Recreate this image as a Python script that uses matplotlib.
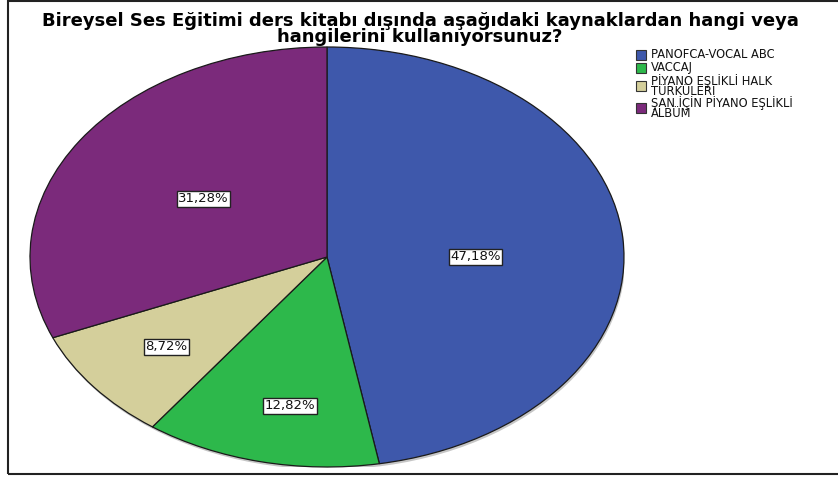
import numpy as np
import matplotlib.pyplot as plt
from matplotlib.patches import Rectangle, Ellipse

plt.rcParams['font.family'] = ['DejaVu Sans']

# data
categories = ['PANOFCA-VOCAL ABC', 'VACCAJ', 'PİYANO EŞLİKLİ HALK\nTÜRKÜLERİ',
              'ŞAN İÇİN PİYANO EŞLİKLİ\nALBÜM']
percents = [47.18, 12.82, 8.72, 31.28]
pct_labels = ['47,18%', '12,82%', '8,72%', '31,28%']
colors = ['#3e58ab', '#2db84b', '#d4cf9b', '#7b2a7b']

title = ('Bireysel Ses Eğitimi ders kitabı dışında aşağıdaki kaynaklardan hangi veya\n'
         'hangilerini kullanıyorsunuz?')

# label placement (radius, angle nudge in degrees)
label_r = [0.5, 0.72, 0.69, 0.5]
label_nudge = [-5, 3, 0, 0]

fig = plt.figure(figsize=(8.38, 4.79), dpi=100)

# outer frame
fig.patches.append(Rectangle((8 / 838, 5 / 479), 1.0, 473 / 479, transform=fig.transFigure,
                             fill=False, edgecolor='#222222', linewidth=1.5))

ax = fig.add_axes([30 / 838, 12 / 479, 594 / 838, 420 / 479])
ax.add_patch(Ellipse((0.004, -0.012), 2.0, 2.0, facecolor='#a0a0a0', edgecolor='none',
                     alpha=0.6, zorder=0))
wedges, _ = ax.pie(percents, colors=colors, startangle=90, counterclock=False,
                   radius=1.0, wedgeprops=dict(edgecolor='#1a1a1a', linewidth=0.9))
ax.set_aspect('auto')
ax.set_xlim(-1, 1)
ax.set_ylim(-1, 1)
ax.axis('off')

for w, lab, r, dn in zip(wedges, pct_labels, label_r, label_nudge):
    mid = np.deg2rad((w.theta1 + w.theta2) / 2 + dn)
    ax.text(r * np.cos(mid), r * np.sin(mid), lab, ha='center', va='center',
            fontsize=9.5, color='#111111',
            bbox=dict(boxstyle='square,pad=0.12', facecolor='white',
                      edgecolor='#222222', linewidth=1.0))

fig.text(420 / 838, 1 - 29 / 479, title, ha='center', va='center', fontsize=13,
         fontweight='bold', linespacing=0.8)

# legend
leg_y = [55, 68, 86, 108]
for lab, col, y in zip(categories, colors, leg_y):
    fig.patches.append(Rectangle((636 / 838, 1 - (y + 5) / 479), 10 / 838, 10 / 479,
                                 transform=fig.transFigure, facecolor=col,
                                 edgecolor='#333333', linewidth=0.8))
    fig.text(651 / 838, 1 - y / 479, lab, ha='left', va='center', fontsize=8.3,
             linespacing=0.7, color='#111111')

fig.savefig('out.png', dpi=100)
